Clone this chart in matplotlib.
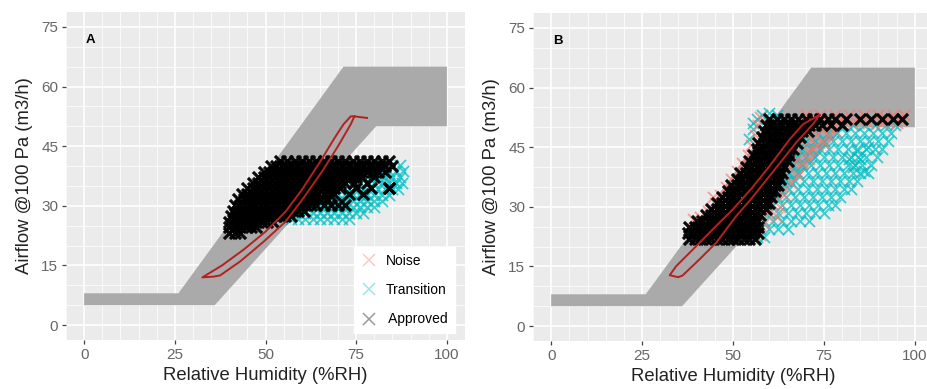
import numpy as np
import matplotlib.pyplot as plt
from matplotlib.ticker import MultipleLocator
from matplotlib.lines import Line2D

plt.rcParams['font.family'] = ['Liberation Sans', 'DejaVu Sans']

# tolerance band (same in both panels)
band_x = [0, 26, 71.5, 100, 100, 80.5, 36, 0]
band_y = [8, 8, 65, 65, 50, 50, 5, 5]

# red reference loop, panel A
red_a_x = [78.0, 74.5, 73.5, 70.0, 65.5, 60.5, 55.5, 49.5, 43.0, 37.5, 35.8, 32.6,
           38.0, 44.0, 50.0, 55.5, 60.0, 65.0, 69.0, 71.5, 73.5, 74.5]
red_a_y = [52.1, 52.5, 50.5, 45.0, 38.5, 32.0, 26.0, 21.0, 16.0, 12.5, 12.2, 12.0,
           15.0, 19.0, 23.5, 28.5, 34.0, 41.0, 47.0, 50.5, 52.5, 52.5]

# red reference loop, panel B
red_b_x = [73.8, 72.0, 67.4, 60.1, 55.0, 50.9, 45.4, 40.8, 36.1, 34.9, 32.6,
           34.4, 39.0, 44.5, 50.0, 55.0, 60.1, 65.6, 69.3, 73.8]
red_b_y = [53.1, 50.8, 46.2, 37.8, 32.0, 27.7, 21.0, 16.8, 12.7, 12.3, 12.8,
           15.1, 19.3, 24.4, 29.4, 34.5, 40.3, 47.0, 50.8, 53.1]

# scatter rows: (y, [x values])
cyan_a_rows = [
    (26.8, [57, 59, 61, 63, 65, 67, 69, 71, 73]),
    (28.3, [59, 61, 63, 65, 67, 69, 71, 73, 75, 77]),
    (29.8, [62, 64, 66, 68, 70, 72, 74, 76, 78, 80]),
    (31.3, [66, 68, 70, 72, 74, 76, 78, 80, 82]),
    (32.8, [68, 70, 72, 74, 76, 78, 80, 82, 84]),
    (34.3, [71, 73, 75, 77, 79, 81, 83, 85, 86.5]),
    (35.8, [74, 76, 78, 80, 82, 84, 86, 87.5]),
    (37.3, [77, 79, 81, 83, 85, 87]),
    (38.8, [80, 82, 84, 86, 88]),
    (40.3, [83, 85, 87]),
]

black_a_rows = [
    (23.2, [40, 41.5, 43]),
    (24.6, [40, 41.5, 43, 44.5, 46, 47.5]),
    (26.0, [40, 41.5, 43, 44.5, 46, 47.5, 49, 50.5, 52]),
    (27.4, [40.5, 42, 43.5, 45, 46.5, 48, 49.5, 51, 52.5, 54, 55.5, 57]),
    (28.8, [41, 42.5, 44, 45.5, 47, 48.5, 50, 51.5, 53, 54.5, 56, 57.5, 59, 60.5]),
    (30.2, [41.5, 43, 44.5, 46, 47.5, 49, 50.5, 52, 53.5, 55, 56.5, 58, 59.5, 61,
            62.5, 64, 66, 68, 70, 72]),
    (31.6, [42.5, 44, 45.5, 47, 48.5, 50, 51.5, 53, 54.5, 56, 57.5, 59, 60.5, 62,
            63.5, 65, 67]),
    (33.0, [43.5, 45, 46.5, 48, 49.5, 51, 52.5, 54, 55.5, 57, 58.5, 60, 61.5, 63,
            64.5, 66, 67.5, 69, 73, 77]),
    (34.4, [45, 46.5, 48, 49.5, 51, 52.5, 54, 55.5, 57, 58.5, 60, 61.5, 63, 64.5,
            66, 67.5, 69, 70.5, 75, 79, 84]),
    (35.8, [46.5, 48, 49.5, 51, 52.5, 54, 55.5, 57, 58.5, 60, 61.5, 63, 64.5, 66,
            67.5, 69, 70.5, 72, 74.5, 78]),
    (37.2, [48, 49.5, 51, 52.5, 54, 55.5, 57, 58.5, 60, 61.5, 63, 64.5, 66, 67.5,
            69, 70.5, 72, 73.5, 75, 76.5, 80]),
    (38.6, [49.5, 51, 52.5, 54, 55.5, 57, 58.5, 60, 61.5, 63, 64.5, 66, 67.5, 69,
            70.5, 72, 73.5, 75, 76.5, 78, 79.5, 81, 83]),
    (40.0, [51.5, 53, 54.5, 56, 57.5, 59, 60.5, 62, 63.5, 65, 66.5, 68, 69.5, 71,
            72.5, 74, 75.5, 77, 78.5, 80, 81.5, 83, 85]),
    (41.2, [54, 56, 58, 60, 62, 64, 66, 68, 70, 72, 74, 76, 78, 80, 82, 84]),
]
black_a_extra = [(84, 34.5)]

cyan_b_rows = [
    (22.5, [56.5, 58.5]),
    (24.5, [57.5, 60, 62.5, 65]),
    (26.5, [58.5, 61, 63.5, 66, 68.5, 71]),
    (28.5, [60, 62.5, 65, 67.5, 70, 72.5, 75]),
    (30.5, [61, 63.5, 66, 68.5, 71, 73.5, 76, 78]),
    (32.5, [62, 64.5, 67, 69.5, 72, 74.5, 77, 79.5]),
    (34.5, [63, 65.5, 68, 70.5, 73, 75.5, 78, 80.5, 82.5]),
    (36.5, [64.5, 67, 69.5, 72, 74.5, 77, 79.5, 82, 84]),
    (38.5, [65.5, 68, 70.5, 73, 75.5, 78, 80.5, 83, 85, 87]),
    (40.5, [66.5, 69, 71.5, 74, 76.5, 79, 81.5, 83.5, 85.5, 88]),
    (42.5, [67.5, 70, 72.5, 75, 77.5, 80, 82.5, 84.5, 86.5, 89.5]),
    (44.5, [69, 71.5, 74, 76.5, 79, 81.5, 84, 86.5, 89, 91]),
    (46.5, [70, 72.5, 75, 77.5, 80, 82.5, 85, 87.5, 90, 92.5]),
    (48.5, [71, 73.5, 76, 78.5, 81, 83.5, 86, 88.5, 91, 93.5]),
    (50.5, [74, 77, 80, 83, 86, 89, 92, 94.5]),
]
cyan_b_extra = [(54.5, 47), (55.5, 49.5), (56.5, 52), (58, 53), (60, 53.5), (62, 53),
                (57, 46), (55.5, 51), (83, 40), (85, 42), (84, 44), (86, 39),
                (82, 42), (87, 45)]

noise_b_pts = [(70, 53), (72, 52.5), (74, 53), (76, 52), (78, 53), (80, 52), (82, 53),
               (84, 52), (86, 53), (88, 52), (90, 53), (92, 52), (94, 53), (96, 52),
               (97, 53), (79, 51), (83, 51), (87, 51), (91, 51), (95, 51),
               (57.5, 23), (58.5, 26), (59.5, 28.5), (60.5, 31), (61.5, 33.5),
               (62.5, 36), (63.5, 38.5), (64.5, 41), (66, 43), (67, 45), (68.5, 47),
               (70, 48.5), (71.5, 47), (73, 48), (74.5, 49.5), (72, 44.5), (75, 46),
               (76.5, 50), (69, 41), (70.5, 44),
               (66, 47), (68, 49.5), (70, 51), (72, 50), (74, 51.5), (76, 48),
               (78, 49), (65, 44), (67, 41.5), (68, 38), (66, 36), (64, 33),
               (63, 30), (62, 27.5), (77, 51), (71, 42), (73, 45.5),
               (41, 27.5), (43, 29), (45, 31), (46.5, 33), (48, 35), (49.5, 37),
               (51, 39), (52.5, 41), (54, 43), (55, 45.5), (56, 48), (57, 50.5),
               (57.5, 52.5), (39, 27), (44.5, 32.5)]

black_b_rows = [
    (22.0, [38, 39.5, 41, 42.5, 44, 45.5, 47, 48.5, 50, 51.5, 53, 54.5, 56]),
    (23.5, [37.5, 39, 40.5, 42, 43.5, 45, 46.5, 48, 49.5, 51, 52.5, 54, 55.5, 57]),
    (25.0, [38, 39.5, 41, 42.5, 44, 45.5, 47, 48.5, 50, 51.5, 53, 54.5, 56, 57]),
    (26.5, [40, 41.5, 43, 44.5, 46, 47.5, 49, 50.5, 52, 53.5, 55, 56.5]),
    (28.0, [42.5, 44, 45.5, 47, 48.5, 50, 51.5, 53, 54.5, 56, 57.5]),
    (29.5, [44, 45.5, 47, 48.5, 50, 51.5, 53, 54.5, 56, 57.5, 59]),
    (31.0, [45.5, 47, 48.5, 50, 51.5, 53, 54.5, 56, 57.5, 59, 60]),
    (32.5, [47, 48.5, 50, 51.5, 53, 54.5, 56, 57.5, 59, 60.5]),
    (34.0, [48.5, 50, 51.5, 53, 54.5, 56, 57.5, 59, 60.5, 61.5]),
    (35.5, [49.5, 51, 52.5, 54, 55.5, 57, 58.5, 60, 61.5, 62.5]),
    (37.0, [51, 52.5, 54, 55.5, 57, 58.5, 60, 61.5, 63]),
    (38.5, [52, 53.5, 55, 56.5, 58, 59.5, 61, 62.5, 63.5]),
    (40.0, [53.5, 55, 56.5, 58, 59.5, 61, 62.5, 64]),
    (41.5, [54.5, 56, 57.5, 59, 60.5, 62, 63.5, 65]),
    (43.0, [55.5, 57, 58.5, 60, 61.5, 63, 64.5, 65.5]),
    (44.5, [56.5, 58, 59.5, 61, 62.5, 64, 65.5, 66.5]),
    (46.0, [57, 58.5, 60, 61.5, 63, 64.5, 66, 67.5]),
    (47.5, [58, 59.5, 61, 62.5, 64, 65.5, 67, 68.5]),
    (49.0, [58.5, 60, 61.5, 63, 64.5, 66, 67.5, 69, 70.5]),
    (50.5, [59, 60.5, 62, 63.5, 65, 66.5, 68, 69.5, 71, 72.5, 74.5, 77, 80]),
    (52.0, [60, 62, 64, 66, 68, 70, 72, 74, 76, 78, 81, 85, 88, 91, 94, 96.5]),
]

classes = ['Noise', 'Transition', 'Approved']
class_labels = ['Noise', 'Transition', ' Approved']
class_colors = {'Noise': '#F8766D', 'Transition': '#00BFC4', 'Approved': '#000000'}


def rows_to_xy(rows, extra=()):
    xs, ys = [], []
    for y, row in rows:
        xs += list(row)
        ys += [y] * len(row)
    for x, y in extra:
        xs.append(x)
        ys.append(y)
    return np.array(xs, float), np.array(ys, float)


def style(ax, tag):
    ax.set_facecolor('#ebebeb')
    ax.set_xlim(-5, 105)
    ax.set_ylim(-3.75, 78.75)
    ax.set_xticks([0, 25, 50, 75, 100])
    ax.set_yticks([0, 15, 30, 45, 60, 75])
    ax.xaxis.set_minor_locator(MultipleLocator(5))
    ax.yaxis.set_minor_locator(MultipleLocator(5))
    ax.set_axisbelow(True)
    ax.grid(which='major', color='white', lw=1.2)
    ax.grid(which='minor', color='white', lw=0.6, alpha=0.85)
    ax.tick_params(which='minor', length=0)
    ax.tick_params(which='major', length=3, width=0.9, color='#444444',
                   labelcolor='#666666', labelsize=11, pad=2.5)
    for s in ax.spines.values():
        s.set_visible(False)
    ax.text(1.8, 71.8, tag, fontweight='bold', fontsize=9.5, ha='center', va='center')
    ax.set_xlabel('Relative Humidity (%RH)', fontsize=13.3, color='#222222', labelpad=4)
    ax.set_ylabel('Airflow @100 Pa (m3/h)', fontsize=13.3, color='#222222', labelpad=6)
    ax.fill(band_x, band_y, color='#aaaaaa', lw=0, zorder=1)


def pts(ax, x, y, cls, alpha, lw):
    ax.scatter(x, y, marker='x', s=64, color=class_colors[cls], alpha=alpha,
               linewidths=lw, zorder=2)


fig = plt.figure(figsize=(9.27, 3.89), dpi=100)
ax_a = fig.add_axes([66 / 927, 49 / 389, 399 / 927, 328 / 389])
ax_b = fig.add_axes([533 / 927, 48 / 389, 400 / 927, 328 / 389])

# panel A
style(ax_a, 'A')
cx, cy = rows_to_xy(cyan_a_rows)
pts(ax_a, cx, cy, 'Transition', 0.75, 1.3)
bx, by = rows_to_xy(black_a_rows, black_a_extra)
pts(ax_a, bx, by, 'Approved', 0.95, 2.3)
ax_a.plot(red_a_x, red_a_y, color='#b52020', lw=1.4, zorder=3)

handles = [Line2D([], [], ls='', marker='x', markersize=9, markeredgewidth=1.1,
                  color=class_colors[c], alpha=0.4) for c in classes]
leg = ax_a.legend(handles, class_labels, loc='lower right', bbox_to_anchor=(0.975, 0.02),
                  frameon=True, fancybox=False, fontsize=10, labelspacing=1.1,
                  handlelength=1.2, handletextpad=0.6, borderpad=0.5, borderaxespad=0)
leg.get_frame().set_facecolor('white')
leg.get_frame().set_edgecolor('white')
leg.get_frame().set_alpha(1)

# panel B
style(ax_b, 'B')
cx, cy = rows_to_xy(cyan_b_rows, cyan_b_extra)
pts(ax_b, cx, cy, 'Transition', 0.75, 1.3)
nx, ny = rows_to_xy([], noise_b_pts)
pts(ax_b, nx, ny, 'Noise', 0.65, 1.3)
bx, by = rows_to_xy(black_b_rows)
pts(ax_b, bx, by, 'Approved', 0.95, 2.3)
ax_b.plot(red_b_x, red_b_y, color='#b52020', lw=1.4, zorder=3)

fig.savefig('out.png', dpi=100, facecolor='white')
